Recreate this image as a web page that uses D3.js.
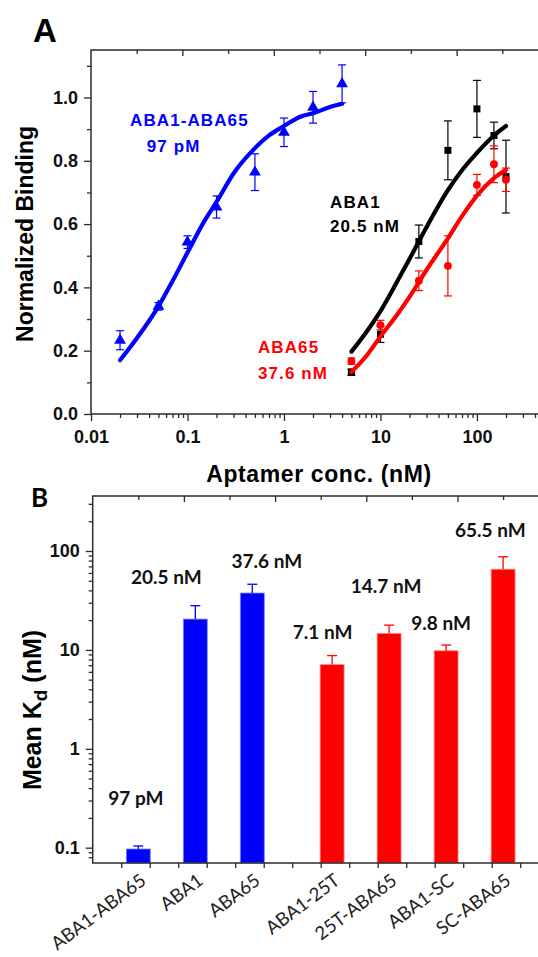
<!DOCTYPE html>
<html>
<head>
<meta charset="utf-8">
<script src="https://cdn.jsdelivr.net/npm/d3@7"></script>
<style>
  body { margin: 0; background: #fff; }
  svg { display: block; }
</style>
</head>
<body>
<script>
// ---- Panel A data: normalized binding vs aptamer concentration (nM) ----
const blueX = [0.02, 0.05, 0.1, 0.2, 0.5, 1, 2, 4];
const blueY = [0.233, 0.34, 0.543, 0.654, 0.764, 0.89, 0.969, 1.043];
const blueErr = [0.03, 0.012, 0.02, 0.035, 0.058, 0.045, 0.05, 0.06];

const blackX = [5, 10, 25, 50, 100, 150, 200];
const blackY = [0.132, 0.252, 0.545, 0.833, 0.964, 0.88, 0.75];
const blackErr = [0.01, 0.026, 0.052, 0.093, 0.09, 0.042, 0.115];

const redX = [5, 10, 25, 50, 100, 150, 200];
const redY = [0.167, 0.281, 0.421, 0.468, 0.724, 0.789, 0.74];
const redErr = [0.01, 0.015, 0.031, 0.095, 0.033, 0.058, 0.037];

// fitted curves
const blueFitX = [0.02, 0.03, 0.05, 0.07, 0.1, 0.15, 0.2, 0.3, 0.5, 0.7, 1, 1.5, 2, 3, 4];
const blueFitY = [0.17, 0.24, 0.34, 0.42, 0.51, 0.61, 0.67, 0.76, 0.84, 0.88, 0.91, 0.94, 0.95, 0.97, 0.98];
const abaFitX = [5, 7, 10, 15, 20, 30, 50, 70, 100, 150, 200];
const blackFitY = [0.197, 0.255, 0.325, 0.42, 0.49, 0.59, 0.707, 0.77, 0.825, 0.88, 0.91];
const redFitY = [0.133, 0.18, 0.245, 0.315, 0.37, 0.455, 0.555, 0.625, 0.69, 0.745, 0.772];

const xTicksA = [0.01, 0.1, 1, 10, 100];
const yTicksA = [0, 0.2, 0.4, 0.6, 0.8, 1.0];

// ---- Panel B data: mean Kd (nM) ----
const kdNames = ["ABA1-ABA65", "ABA1", "ABA65", "ABA1-25T", "25T-ABA65", "ABA1-SC", "SC-ABA65"];
const kdValues = [0.097, 20.5, 37.6, 7.1, 14.7, 9.8, 65.5];
const kdErrors = [0.007, 7.5, 8.5, 1.66, 3.1, 1.4, 22];
const kdFamily = ["parent", "parent", "parent", "modified", "modified", "modified", "modified"];
const kdLabels = ["97 pM", "20.5 nM", "37.6 nM", "7.1 nM", "14.7 nM", "9.8 nM", "65.5 nM"];
const yTicksB = [0.1, 1, 10, 100];

// ---- setup ----
const W = 538, H = 957;
const AXIS = "#2b2b2b";
const ARIAL = "'Liberation Sans', Arial, sans-serif";
const CALIBRI = "Lato, 'Noto Sans', sans-serif";
const BLUE = "#0000ff", RED = "#ff0000", BLACK = "#000000";

const svg = d3.select("body").append("svg")
  .attr("width", W)
  .attr("height", H);
svg.append("rect").attr("width", W).attr("height", H).attr("fill", "#fff");

function minorLog(domain) {
  let out = [];
  for (let p = Math.floor(Math.log10(domain[0])); p <= Math.ceil(Math.log10(domain[1])); p++) {
    for (let m = 2; m <= 9; m++) {
      let v = +(m * Math.pow(10, p)).toPrecision(6);
      if (v > domain[0] && v < domain[1]) out.push(v);
    }
  }
  return out;
}

function styleAxis(g) {
  g.select(".domain").remove();
  g.attr("font-family", null).attr("font-size", null);
  g.selectAll("line").attr("stroke", AXIS).attr("stroke-width", 1.3);
  g.selectAll("text")
    .attr("font-family", ARIAL)
    .attr("font-weight", "bold")
    .attr("font-size", 18)
    .attr("fill", "#111");
}

function frame(box) {
  svg.append("rect")
    .attr("x", box.left).attr("y", box.top)
    .attr("width", box.right - box.left).attr("height", box.bottom - box.top)
    .attr("fill", "none").attr("stroke", AXIS).attr("stroke-width", 1.5);
  // decorative top ticks (linear, 10 divisions of the frame)
  let topScale = d3.scaleLinear().domain([0, 10]).range([box.left, box.right]);
  svg.append("g").attr("transform", `translate(0,${box.top})`)
    .call(d3.axisTop(topScale).tickValues([2, 4, 6, 8]).tickSize(-6).tickFormat(""))
    .call(styleAxis);
  svg.append("g").attr("transform", `translate(0,${box.top})`)
    .call(d3.axisTop(topScale).tickValues([1, 3, 5, 7, 9]).tickSize(-4).tickFormat(""))
    .call(styleAxis);
}

// ================= Panel A =================
const a = { left: 91, right: 548, top: 50, bottom: 414 };
const xA = d3.scaleLog().domain([0.01, 545]).range([a.left, a.right]);
const yA = d3.scaleLinear().domain([0, 1.15]).range([a.bottom, a.top]);

frame(a);

svg.append("g").attr("transform", `translate(0,${a.bottom})`)
  .call(d3.axisBottom(xA).tickValues(xTicksA).tickFormat(d3.format("~g")).tickSize(7).tickPadding(9))
  .call(styleAxis);
svg.append("g").attr("transform", `translate(0,${a.bottom})`)
  .call(d3.axisBottom(xA).tickValues(minorLog(xA.domain())).tickSize(4).tickFormat(""))
  .call(styleAxis);
svg.append("g").attr("transform", `translate(${a.left},0)`)
  .call(d3.axisLeft(yA).tickValues(yTicksA).tickFormat(d3.format(".1f")).tickSize(7).tickPadding(6))
  .call(styleAxis);
svg.append("g").attr("transform", `translate(${a.left},0)`)
  .call(d3.axisLeft(yA).tickValues([0.1, 0.3, 0.5, 0.7, 0.9, 1.1]).tickSize(4).tickFormat(""))
  .call(styleAxis);

const fitLine = d3.line()
  .x(d => xA(d[0]))
  .y(d => yA(d[1]))
  .curve(d3.curveMonotoneX);

function drawFit(xs, ys, color) {
  svg.append("path")
    .datum(d3.zip(xs, ys))
    .attr("d", fitLine)
    .attr("fill", "none")
    .attr("stroke", color)
    .attr("stroke-width", 4.2)
    .attr("stroke-linecap", "round");
}

function drawPoints(xs, ys, errs, color, symbol, size) {
  let pts = d3.zip(xs, ys, errs);
  let g = svg.append("g");
  let eb = g.selectAll("g.err").data(pts).enter().append("g")
    .attr("stroke", color).attr("stroke-width", 1.2);
  eb.append("line")
    .attr("x1", d => xA(d[0])).attr("x2", d => xA(d[0]))
    .attr("y1", d => yA(d[1] - d[2])).attr("y2", d => yA(d[1] + d[2]));
  eb.append("line")
    .attr("x1", d => xA(d[0]) - 4).attr("x2", d => xA(d[0]) + 4)
    .attr("y1", d => yA(d[1] + d[2])).attr("y2", d => yA(d[1] + d[2]));
  eb.append("line")
    .attr("x1", d => xA(d[0]) - 4).attr("x2", d => xA(d[0]) + 4)
    .attr("y1", d => yA(d[1] - d[2])).attr("y2", d => yA(d[1] - d[2]));
  g.selectAll("path").data(pts).enter().append("path")
    .attr("d", d3.symbol().type(symbol).size(size))
    .attr("transform", d => `translate(${xA(d[0])},${yA(d[1])})`)
    .attr("fill", color);
}

drawFit(blueFitX, blueFitY, BLUE);
drawPoints(blueX, blueY, blueErr, BLUE, d3.symbolTriangle, 60);
drawFit(abaFitX, blackFitY, BLACK);
drawPoints(blackX, blackY, blackErr, BLACK, d3.symbolSquare, 49);
drawFit(abaFitX, redFitY, RED);
drawPoints(redX, redY, redErr, RED, d3.symbolCircle, 48);

// curve annotations, placed in data coordinates
const notesA = [
  { text: "ABA1-ABA65", x: 0.0254, y: 0.91, color: BLUE },
  { text: "97 pM", x: 0.0378, y: 0.828, color: BLUE },
  { text: "ABA1", x: 3.0, y: 0.65, color: BLACK },
  { text: "20.5 nM", x: 3.0, y: 0.574, color: BLACK },
  { text: "ABA65", x: 0.538, y: 0.192, color: RED },
  { text: "37.6 nM", x: 0.538, y: 0.111, color: RED }
];
svg.append("g").selectAll("text").data(notesA).enter().append("text")
  .attr("x", d => xA(d.x))
  .attr("y", d => yA(d.y))
  .attr("fill", d => d.color)
  .attr("font-family", ARIAL)
  .attr("font-weight", "bold")
  .attr("font-size", 17)
  .attr("letter-spacing", 1.1)
  .text(d => d.text);

svg.append("text")
  .attr("x", 33).attr("y", 42)
  .attr("font-family", ARIAL).attr("font-weight", "bold").attr("font-size", 33)
  .text("A");
svg.append("text")
  .attr("transform", "translate(33,234) rotate(-90)")
  .attr("text-anchor", "middle")
  .attr("font-family", ARIAL).attr("font-weight", "bold").attr("font-size", 23)
  .text("Normalized Binding");
svg.append("text")
  .attr("x", 319).attr("y", 482)
  .attr("text-anchor", "middle")
  .attr("font-family", ARIAL).attr("font-weight", "bold").attr("font-size", 23)
  .attr("letter-spacing", 0.6)
  .text("Aptamer conc. (nM)");

// ================= Panel B =================
const b = { left: 92.7, right: 548.7, top: 496, bottom: 863 };
const xB = d3.scaleLinear().domain([0, 8]).range([b.left, b.right]);
const yB = d3.scaleLog().domain([0.07, 360]).range([b.bottom, b.top]);

// slot position from order: parent aptamers first, modified set after a gap
const slot = (d, i) => i + (kdFamily[i] === "parent" ? 0.8 : 1.2);
const barW = xB(0.42) - xB(0);
const barColor = i => kdFamily[i] === "parent" ? BLUE : RED;
const barEdge = i => kdFamily[i] === "parent" ? "#7f7fff" : "#ff8c8c";

const bars = kdValues.map((v, i) => ({ name: kdNames[i], value: v, err: kdErrors[i], label: kdLabels[i], pos: slot(v, i), i: i }));

const gB = svg.append("g");
gB.selectAll("rect").data(bars).enter().append("rect")
  .attr("x", d => xB(d.pos) - barW / 2)
  .attr("y", d => yB(d.value))
  .attr("width", barW)
  .attr("height", d => b.bottom - yB(d.value))
  .attr("fill", d => barColor(d.i))
  .attr("stroke", d => barEdge(d.i))
  .attr("stroke-width", 0.8);

let errB = gB.selectAll("g.err").data(bars).enter().append("g")
  .attr("stroke", d => barColor(d.i)).attr("stroke-width", 1.3);
errB.append("line")
  .attr("x1", d => xB(d.pos)).attr("x2", d => xB(d.pos))
  .attr("y1", d => yB(d.value)).attr("y2", d => yB(d.value + d.err));
errB.append("line")
  .attr("x1", d => xB(d.pos) - 5).attr("x2", d => xB(d.pos) + 5)
  .attr("y1", d => yB(d.value + d.err)).attr("y2", d => yB(d.value + d.err));

frame(b);

svg.append("g").attr("transform", `translate(0,${b.bottom})`)
  .call(d3.axisBottom(xB).tickValues(d3.range(0.5, 8, 0.5)).tickSize(5).tickFormat(""))
  .call(styleAxis);
svg.append("g").attr("transform", `translate(${b.left},0)`)
  .call(d3.axisLeft(yB).tickValues(yTicksB).tickFormat(d3.format("~g")).tickSize(7).tickPadding(6))
  .call(styleAxis);
svg.append("g").attr("transform", `translate(${b.left},0)`)
  .call(d3.axisLeft(yB).tickValues(minorLog(yB.domain())).tickSize(4).tickFormat(""))
  .call(styleAxis);

// value labels above bars (hand-placed nudges, as in the original)
const nudgeB = [[-2.5, 41], [-29, 22], [14.5, 16], [-9.5, 17], [-3, 32], [-5, 15], [-12.7, 20]];
gB.selectAll("text.val").data(bars).enter().append("text")
  .attr("x", d => xB(d.pos) + nudgeB[d.i][0])
  .attr("y", d => yB(d.value + d.err) - nudgeB[d.i][1])
  .attr("text-anchor", "middle")
  .attr("font-family", CALIBRI)
  .attr("font-weight", "bold")
  .attr("font-size", 19)
  .attr("fill", "#111")
  .text(d => d.label);

// rotated category names
gB.selectAll("text.cat").data(bars).enter().append("text")
  .attr("transform", d => `translate(${xB(d.pos) + 9},883) rotate(-37)`)
  .attr("text-anchor", "end")
  .attr("font-family", CALIBRI)
  .attr("font-size", 18.5)
  .attr("fill", "#222")
  .text(d => d.name);

svg.append("text")
  .attr("x", 31).attr("y", 507)
  .attr("font-family", CALIBRI).attr("font-weight", "bold").attr("font-size", 26)
  .text("B");

let yTitleB = svg.append("text")
  .attr("transform", "translate(41,710) rotate(-90)")
  .attr("text-anchor", "middle")
  .attr("font-family", ARIAL).attr("font-weight", "bold").attr("font-size", 25);
yTitleB.append("tspan").text("Mean K");
yTitleB.append("tspan").attr("dy", 6).attr("font-size", 19).text("d");
yTitleB.append("tspan").attr("dy", -6).text(" (nM)");
</script>
</body>
</html>
